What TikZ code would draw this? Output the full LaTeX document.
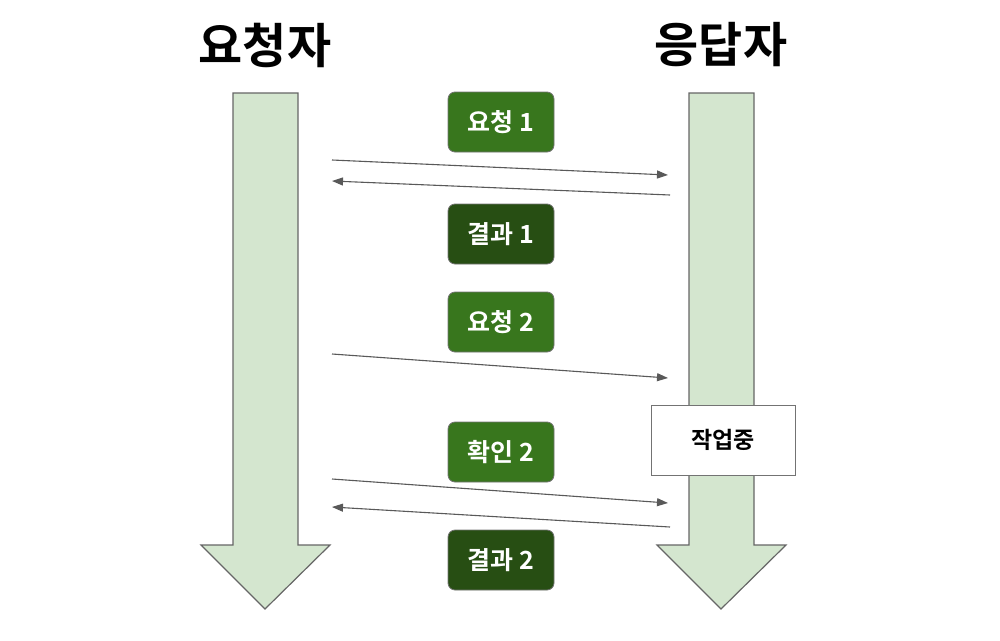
\documentclass[tikz,border=0pt]{standalone}
\usepackage{fontspec}
\newfontfamily\krfont{Noto Sans CJK KR Bold}
\usetikzlibrary{arrows.meta}

\begin{document}
\begin{tikzpicture}[x=1pt, y=-1pt,
  font=\krfont,
  lane/.style={draw=black!60, line width=1.2pt, fill=flow},
  who/.style={font=\krfont\fontsize{48}{52}\selectfont, inner sep=0pt},
  msg/.style={rounded corners=7pt, draw=black!55, line width=0.8pt, minimum width=106pt, minimum height=60pt,
    inner sep=0pt, text=white, font=\krfont\fontsize{25}{28}\selectfont},
  req/.style={msg, fill=reqgreen},
  res/.style={msg, fill=resgreen},
  work/.style={draw=black!55, line width=0.8pt, fill=white, minimum width=144pt, minimum height=70pt,
    inner sep=0pt, font=\krfont\fontsize{23}{26}\selectfont},
  arr/.style={-{Triangle[length=11pt, width=8pt]}, draw=black!65, line width=1.1pt}]
\definecolor{flow}{HTML}{D4E6CF}
\definecolor{reqgreen}{HTML}{38761D}
\definecolor{resgreen}{HTML}{274E13}
\useasboundingbox (0,0) rectangle (1000,640);
% --- the two time lines
\draw[lane] (233,93) -- (298,93) -- (298,545) -- (330,545) -- (265,609) -- (201,545) -- (233,545) -- cycle;
\draw[lane] (689,93) -- (754,93) -- (754,545) -- (786,545) -- (721,609) -- (657,545) -- (689,545) -- cycle;
\node[who] (client) at (265,45) {요청자};
\node[who] (server) at (721,45) {응답자};
% --- messages
\node[req] (q1) at (501,122) {요청 1};
\node[res] (r1) at (501,234) {결과 1};
\node[req] (q2) at (501,322) {요청 2};
\node[req] (c2) at (501,452) {확인 2};
\node[res] (r2) at (501,560) {결과 2};
\node[work] (busy) at (723,440) {작업중};
% --- end points on the lanes
\coordinate (a1) at (332,160); \coordinate (b1) at (668,175);
\coordinate (b2) at (670,195); \coordinate (a2) at (332,181);
\coordinate (a3) at (332,354); \coordinate (b3) at (668,378);
\coordinate (a4) at (332,479); \coordinate (b4) at (668,503);
\coordinate (b5) at (670,527); \coordinate (a5) at (332,507);
\draw[arr] (a1) -- (b1);
\draw[arr] (b2) -- (a2);
\draw[arr] (a3) -- (b3);
\draw[arr] (a4) -- (b4);
\draw[arr] (b5) -- (a5);
\end{tikzpicture}
\end{document}
